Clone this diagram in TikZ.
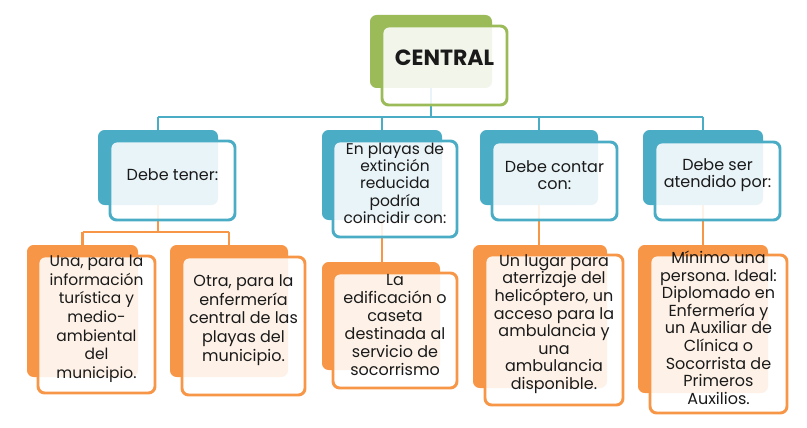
\documentclass[tikz,border=0pt]{standalone}
\usepackage{fontspec}
\setmainfont{Poppins}
\usetikzlibrary{fit,backgrounds}
\definecolor{cblue}{HTML}{4BACC6}
\definecolor{cgreen}{HTML}{9BBB59}
\definecolor{corange}{HTML}{F79646}
\definecolor{ctext}{HTML}{1A1A1A}
\frenchspacing
\begin{document}
\begin{tikzpicture}[x=0.75pt,y=-0.75pt,
  back/.style={fill=#1, draw=none, rounded corners=5pt, inner sep=0pt},
  front/.style={fill=white, fill opacity=0.88, text opacity=1, draw=#1, line width=2.2pt, rounded corners=5pt, inner sep=0pt, align=center, text=ctext},
  link/.style={draw=#1, line width=1.6pt},
  bluetxt/.style={font=\fontsize{12}{13.2}\selectfont},
  txtA/.style={font=\fontsize{11.6}{14}\selectfont},
  txtB/.style={font=\fontsize{12}{14}\selectfont},
  txtC/.style={font=\fontsize{12}{13.5}\selectfont},
  txtD/.style={font=\fontsize{12}{13.2}\selectfont}
]
\useasboundingbox (0,0) rectangle (807,428);

% central
\node[back=cgreen, fit={(370,15)(492,88)}] (b0) {};
\node[front=cgreen, fit={(382,26)(507,105)}, font=\bfseries\fontsize{16.5}{18}\selectfont] (f0) {CENTRAL};

% second level
\node[back=cblue, fit={(98,130)(218,205)}] (b1) {};
\node[front=cblue, fit={(110,141)(235,220)}, bluetxt] (f1) {Debe tener:};
\node[back=cblue, fit={(322,130)(442,220)}] (b2) {};
\node[front=cblue, fit={(333,141)(457,237)}, font=\fontsize{11.6}{13}\selectfont] (f2) {En playas de\\extinción\\reducida\\podría\\coincidir con:};
\node[back=cblue, fit={(480,130)(598,205)}] (b3) {};
\node[front=cblue, fit={(492,142)(617,220)}, bluetxt] (f3) {Debe contar\\con:};
\node[back=cblue, fit={(643,130)(763,205)}] (b4) {};
\node[front=cblue, fit={(655,142)(780,220)}, bluetxt] (f4) {Debe ser\\atendido por:};

% third level
\node[back=corange, fit={(27,245)(138,377)}] (bA) {};
\node[front=corange, fit={(38,256)(155,393)}, txtA] (fA) {Una, para la\\información\\turística y\\medio-\\ambiental\\del\\municipio.};
\node[back=corange, fit={(170,245)(288,377)}] (bB) {};
\node[front=corange, fit={(182,257)(305,395)}, txtB] (fB) {Otra, para la\\enfermería\\central de las\\playas del\\municipio.};
\node[back=corange, fit={(322,262)(440,370)}] (bC) {};
\node[front=corange, fit={(333,273)(457,388)}, txtC] (fC) {La\\edificación o\\caseta\\destinada al\\servicio de\\socorrismo};
\node[back=corange, fit={(473,245)(607,388)}] (bD) {};
\node[front=corange, fit={(485,255)(623,405)}, txtD] (fD) {Un lugar para\\aterrizaje del\\helicóptero, un\\acceso para la\\ambulancia y\\una\\ambulancia\\disponible.};
\node[back=corange, fit={(638,245)(768,393)}] (bE) {};
\node[front=corange, fit={(650,255)(787,413)}, txtD] (fE) {Mínimo una\\persona. Ideal:\\Diplomado en\\Enfermería y\\un Auxiliar de\\Clínica o\\Socorrista de\\Primeros\\Auxilios.};

\coordinate (bus) at (0,117);
\coordinate (obus) at (0,232);

\begin{scope}[on background layer]
  \draw[link=cblue] (b0.center) -- (b0.center |- bus);
  \draw[link=cblue] (b1.north |- bus) -- (b4.north |- bus);
  \draw[link=cblue] (b1.north |- bus) -- (b1.north);
  \draw[link=cblue] (b2.north |- bus) -- (b2.north);
  \draw[link=cblue] (b3.north |- bus) -- (b3.north);
  \draw[link=cblue] (b4.north |- bus) -- (b4.north);
  \draw[link=corange] (b1.center) -- (b1.center |- obus);
  \draw[link=corange] (bA.north |- obus) -- (bB.north |- obus);
  \draw[link=corange] (bA.north |- obus) -- (bA.north);
  \draw[link=corange] (bB.north |- obus) -- (bB.north);
  \draw[link=corange] (b2.center) -- (b2.center |- bC.north);
  \draw[link=corange] (b3.center) -- (b3.center |- bD.north);
  \draw[link=corange] (b4.center) -- (b4.center |- bE.north);
\end{scope}
\end{tikzpicture}
\end{document}
